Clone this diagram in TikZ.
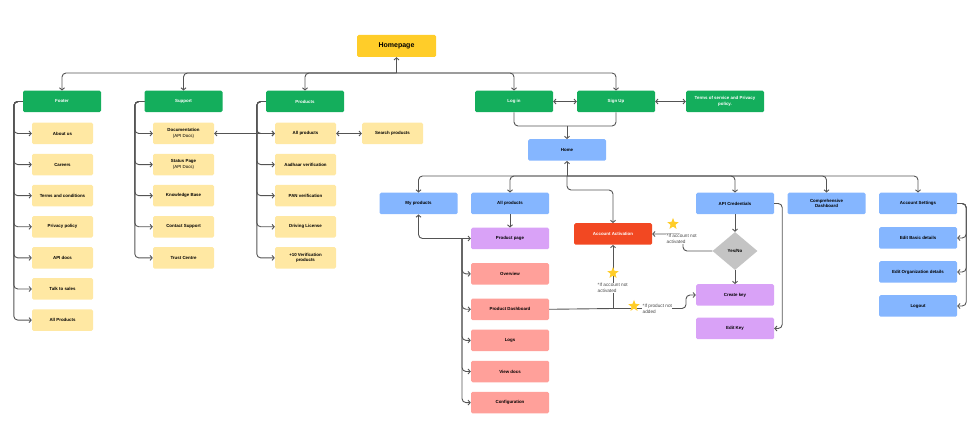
\documentclass[tikz,border=0pt]{standalone}
\usepackage{fontspec}
\setmainfont{Liberation Sans}
\usetikzlibrary{positioning,shapes.geometric,arrows.meta,calc}

\definecolor{grn}{HTML}{14AE5C}
\definecolor{hpyel}{HTML}{FFCD29}
\definecolor{lyel}{HTML}{FFE8A3}
\definecolor{blu}{HTML}{85B6FF}
\definecolor{purp}{HTML}{D9A2F7}
\definecolor{salm}{HTML}{FFA09A}
\definecolor{orng}{HTML}{F24822}
\definecolor{gry}{HTML}{C4C4C4}
\definecolor{lnc}{HTML}{545454}
\definecolor{notec}{HTML}{4A4A4A}

\tikzset{
  box/.style={rectangle, rounded corners=1.5pt, minimum width=78pt, minimum height=21.5pt,
    inner sep=1pt, align=center, font=\bfseries\fontsize{4.4}{5.6}\selectfont},
  greenbox/.style={box, fill=grn, text=white},
  yellowbox/.style={box, fill=lyel, minimum width=61pt},
  bluebox/.style={box, fill=blu},
  purplebox/.style={box, fill=purp},
  redbox/.style={box, fill=salm},
  flow/.style={draw=lnc, line width=0.9pt, rounded corners=4pt, ->},
  notetext/.style={fill=white, inner sep=0.5pt, align=left, text=notec,
    font=\fontsize{4.7}{6.2}\selectfont},
  starmark/.style={star, star points=5, star point ratio=2.3, fill=hpyel,
    minimum size=12pt, inner sep=0pt},
  >={Straight Barb[length=2.2pt,width=5pt]},
}

\begin{document}
\begin{tikzpicture}[x=1pt, y=-1pt, node distance=9.2pt]
\useasboundingbox (0,0) rectangle (980,446);

\node[box, fill=hpyel, minimum width=79pt, minimum height=22pt,
  font=\bfseries\fontsize{7}{8}\selectfont] (homepage) at (396.5,46) {Homepage};

\node[greenbox] (footer) at (62,101.5) {Footer};
\node[greenbox] (support) at (183.5,101.5) {Support};
\node[greenbox] (products) at (305,101.5) {Products};
\node[greenbox] (login) at (514,101.5) {Log in};
\node[greenbox] (signup) at (616,101.5) {Sign Up};
\node[greenbox] (terms) at (725,101.5) {Terms of service and Privacy\\policy.};

% footer pages
\node[yellowbox] (about) at (62.5,133.5) {About us};
\node[yellowbox, below=of about] (careers) {Careers};
\node[yellowbox, below=of careers] (tandc) {Terms and conditions};
\node[yellowbox, below=of tandc] (privacy) {Privacy policy};
\node[yellowbox, below=of privacy] (apidocs) {API docs};
\node[yellowbox, below=of apidocs] (sales) {Talk to sales};
\node[yellowbox, below=of sales] (allprodf) {All Products};

% support pages
\node[yellowbox] (docs) at (183.5,133.5) {Documentation\\{\mdseries(API Docs)}};
\node[yellowbox, below=of docs] (status) {Status Page\\{\mdseries(API Docs)}};
\node[yellowbox, below=of status] (kbase) {Knowledge Base};
\node[yellowbox, below=of kbase] (contact) {Contact Support};
\node[yellowbox, below=of contact] (trust) {Trust Centre};

% product pages
\node[yellowbox] (allp) at (305.5,133.5) {All products};
\node[yellowbox, below=of allp] (aadhaar) {Aadhaar verification};
\node[yellowbox, below=of aadhaar] (pan) {PAN verification};
\node[yellowbox, below=of pan] (driving) {Driving License};
\node[yellowbox, below=of driving] (more) {+10 Verification\\products};
\node[yellowbox] (search) at (392.5,133.5) {Search products};

\node[bluebox] (home) at (567,150) {Home};

\node[bluebox] (myprod) at (418.5,203.5) {My products};
\node[bluebox] (allprod) at (510,203.5) {All products};
\node[bluebox] (apicred) at (735,203.5) {API Credentials};
\node[bluebox] (dash) at (826.5,203.5) {Comprehensive\\Dashboard};
\node[bluebox] (accset) at (918,203.5) {Account Settings};
\node[box, fill=orng, text=white] (aa) at (613,234) {Account Activation};

\node[purplebox] (ppage) at (510,238.5) {Product page};
\node[redbox, below=13.5pt of ppage] (overview) {Overview};
\node[redbox, below=13.5pt of overview] (pdash) {Product Dashboard};
\node[redbox, below=of pdash] (logs) {Logs};
\node[redbox, below=of logs] (viewdocs) {View docs};
\node[redbox, below=of viewdocs] (config) {Configuration};

\node[diamond, fill=gry, minimum width=45pt, minimum height=38pt, inner sep=0pt,
  font=\bfseries\fontsize{4.4}{5.6}\selectfont] (yesno) at (735,251) {Yes/No};
\node[purplebox] (ckey) at (735,295) {Create key};
\node[purplebox] (ekey) at (735,328.5) {Edit Key};

\node[bluebox] (basic) at (918,238) {Edit Basic details};
\node[bluebox] (org) at (918,272) {Edit Organization details};
\node[bluebox] (logout) at (918,306) {Logout};

% homepage tree
\coordinate (hpj) at (396.5,73);
\draw[flow] (hpj) -- (homepage.south);
\foreach \n in {footer,support,products,login,signup}
  \draw[flow] (hpj) -| (\n.north);

\foreach \n in {about,careers,tandc,privacy,apidocs,sales,allprodf}
  \draw[flow] (footer.west) -| ($(\n.west)+(-18,0)$) -- (\n.west);
\foreach \n in {docs,status,kbase,contact,trust}
  \draw[flow] (support.west) -| ($(\n.west)+(-18,0)$) -- (\n.west);
\foreach \n in {allp,aadhaar,pan,driving,more}
  \draw[flow] (products.west) -| ($(\n.west)+(-18,0)$) -- (\n.west);

\draw[flow,<->] (docs.east) -- (allp.west);
\draw[flow,<->] (allp.east) -- (search.west);
\draw[flow,<->] (login.east) -- (signup.west);
\draw[flow,<->] (signup.east) -- (terms.west);

\coordinate (lj) at (567,126);
\draw[flow,-] (login.south) |- (lj);
\draw[flow,-] (signup.south) |- (lj);
\draw[flow] (lj) -- (home.north);

% home tree
\coordinate (hj) at (567,176);
\draw[flow] (hj) -- (home.south);
\foreach \n in {myprod,allprod,apicred,dash,accset}
  \draw[flow] (hj) -| (\n.north);
\draw[flow] (hj) -- ++(0,14) -| (aa.north);

\draw[flow] (allprod.south) -- (ppage.north);
\coordinate (pj) at (462,238.5);
\draw[flow,<->] (myprod.south) |- (ppage.west);
\foreach \n in {overview,pdash,logs,viewdocs,config}
  \draw[flow] (pj) |- (\n.west);

\coordinate (dj) at (613,308.5);
\draw[flow,-] (pdash.east) -- (dj);
\draw[flow] (dj) -- (aa.south);
\draw[flow] (dj) -- (686,308.5) |- (ckey.west);

\draw[flow] (apicred.south) -- (yesno.north);
\draw[flow] (yesno.south) -- (ckey.north);
\draw[flow] (yesno.west) -- (683,251) |- (aa.east);
\draw[flow] (apicred.east) -| ($(ekey.east)+(8,0)$) -- (ekey.east);

\foreach \n in {basic,org,logout}
  \draw[flow] (accset.east) -| ($(\n.east)+(9,0)$) -- (\n.east);

% conditions
\node[notetext, anchor=west] (n1) at (666,239) {*If account not\\activated};
\node[starmark] (s1) at (673,224) {};
\node[notetext, anchor=west] (n2) at (597,288) {*If account not\\activated};
\node[starmark] (s2) at (613,273) {};
\node[notetext, anchor=west] (n3) at (642,309) {*If product not\\added};
\node[starmark] (s3) at (634,306) {};
\end{tikzpicture}
\end{document}
